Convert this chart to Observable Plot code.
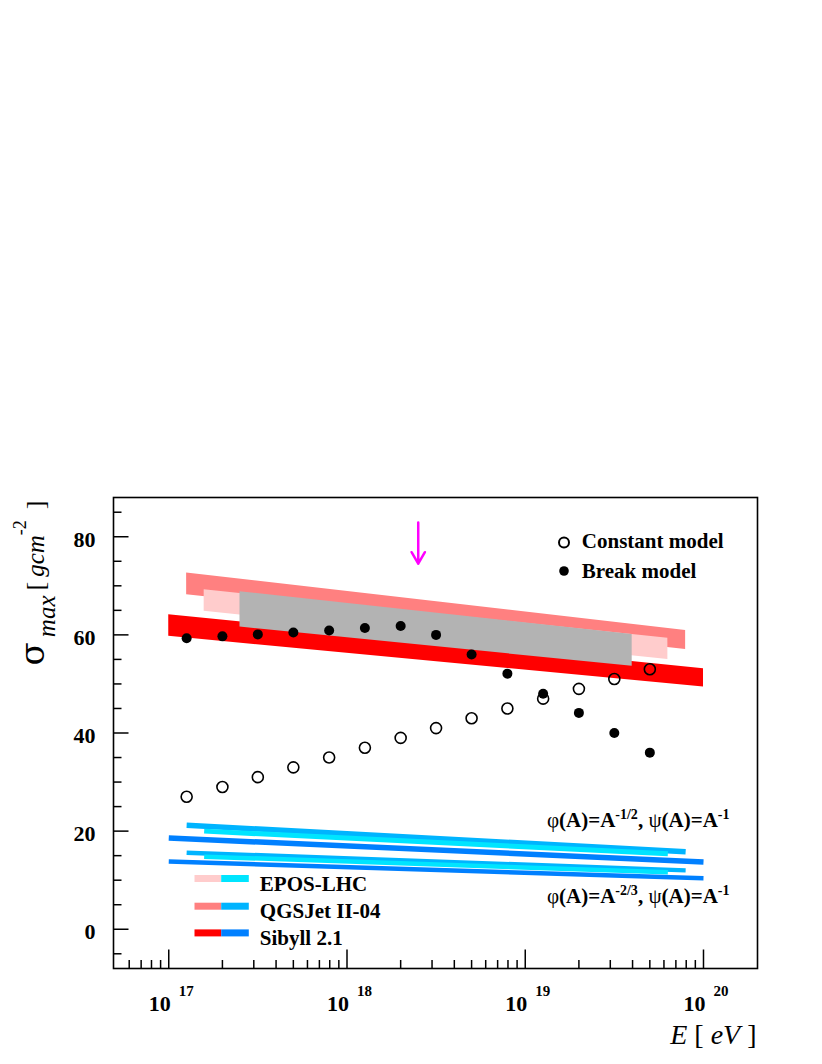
<!DOCTYPE html>
<html><head><meta charset="utf-8">
<script src="https://cdn.jsdelivr.net/npm/d3@7"></script>
<script src="https://cdn.jsdelivr.net/npm/@observablehq/plot@0.6"></script>
<style>body{margin:0;background:#fff}</style>
</head><body><div id="chart"></div>
<script>
// ---------- data ----------
const pointE = [1.26e17, 2.0e17, 3.16e17, 5.0e17, 7.94e17, 1.26e18, 2.0e18, 3.16e18, 5.0e18, 7.94e18, 1.26e19, 2.0e19, 3.16e19, 5.0e19];
const constantSigma = [27, 29, 31, 33, 35, 37, 39, 41, 43, 45, 47, 49, 51, 53];
const breakSigma = [59.3, 59.7, 60.1, 60.5, 60.9, 61.4, 61.8, 60.0, 56.0, 52.1, 48.0, 44.1, 40.0, 36.0];

const sibyllBandE = [1.0e17, 1.0e20];
const sibyllBandLow = [59.7, 49.4];
const sibyllBandHigh = [64.1, 53.1];
const qgsjetBandE = [1.26e17, 7.94e19];
const qgsjetBandLow = [68.2, 57.0];
const qgsjetBandHigh = [72.6, 60.9];
const eposBandE = [1.58e17, 6.31e19];
const eposBandLow = [64.8, 55.0];
const eposBandHigh = [69.2, 59.3];
const grayBandE = [2.51e17, 3.98e19];
const grayBandLow = [61.6, 53.6];
const grayBandHigh = [68.8, 60.1];

const sibyllLineE = [1.0e17, 1.0e20];
const sibyllUpper = [18.6, 13.7];
const sibyllLower = [13.8, 10.4];
const qgsjetLineE = [1.26e17, 7.94e19];
const qgsjetUpper = [21.2, 15.8];
const qgsjetLower = [15.6, 12.0];
const eposLineE = [1.58e17, 6.31e19];
const eposUpper = [20.0, 15.4];
const eposLower = [14.8, 11.6];

const arrowE = [2.51e18];
const arrowFrom = [82.9];
const arrowTo = [74.5];

const xMajor = [1e17, 1e18, 1e19, 1e20];
const xMajorExp = ["17", "18", "19", "20"];
const xMinor = [6e16, 7e16, 8e16, 9e16,
  2e17, 3e17, 4e17, 5e17, 6e17, 7e17, 8e17, 9e17,
  2e18, 3e18, 4e18, 5e18, 6e18, 7e18, 8e18, 9e18,
  2e19, 3e19, 4e19, 5e19, 6e19, 7e19, 8e19, 9e19];
const yMajor = [0, 20, 40, 60, 80];
const yMinor = [-5, 5, 10, 15, 25, 30, 35, 45, 50, 55, 65, 70, 75, 85];

const legendNames = ["EPOS-LHC", "QGSJet II-04", "Sibyll 2.1"];
const legendReds = ["#ffcccc", "#ff8080", "#ff0000"];
const legendBlues = ["#00e5ff", "#00b4ff", "#0080ff"];
const pointLegend = ["Constant model", "Break model"];

// ---------- helpers ----------
const band = (E, lo, hi) => E.map((e, i) => ({E: e, lo: lo[i], hi: hi[i]}));
const pts = (E, s) => E.map((e, i) => ({E: e, s: s[i]}));
const tickShape = {draw(ctx, l) { ctx.moveTo(0, 0); ctx.lineTo(0, -l); }};
const rich = new Map();
function key(k, segs) { rich.set(k, segs); return k; }
function applyRich(svg) {
  d3.select(svg).selectAll("text").each(function () {
    const segs = rich.get(this.textContent);
    if (!segs) return;
    const el = d3.select(this);
    el.text(null);
    let cur = 0;
    for (const s of segs) {
      const ts = el.append("tspan").text(s.t);
      const r = s.raise || 0;
      if (r !== cur) ts.attr("dy", cur - r);
      cur = r;
      if (s.dx) ts.attr("dx", s.dx);
      if (s.size) ts.attr("font-size", s.size);
      if (s.italic) ts.attr("font-style", "italic");
      if (s.weight) ts.attr("font-weight", s.weight);
      if (s.family) ts.attr("font-family", s.family);
    }
  });
}

xMajor.forEach((v, i) => key("10^" + xMajorExp[i], [{t: "10", size: 22}, {t: xMajorExp[i], size: 15, dx: 8, raise: 15}]));
key("YLABEL", [
  {t: "σ", size: 34, family: "'DejaVu Serif', serif", weight: "normal"},
  {t: "max", size: 25, italic: true, raise: -11, dx: 5},
  {t: "[", size: 26, raise: 0, dx: 5},
  {t: "gcm", size: 25, italic: true, dx: 5},
  {t: "-2", size: 18, raise: 18},
  {t: "]", size: 26, raise: 0, dx: 11}
]);
key("XLABEL", [{t: "E", italic: true}, {t: " [ "}, {t: "eV", italic: true}, {t: " ]"}]);
key("PHI12", [{t: "φ", weight: "normal"}, {t: "(A)=A"}, {t: "-1/2", size: 14, raise: 8}, {t: ", ", raise: 0},
  {t: "ψ", weight: "normal"}, {t: "(A)=A"}, {t: "-1", size: 14, raise: 8}]);
key("PHI23", [{t: "φ", weight: "normal"}, {t: "(A)=A"}, {t: "-2/3", size: 14, raise: 8}, {t: ", ", raise: 0},
  {t: "ψ", weight: "normal"}, {t: "(A)=A"}, {t: "-1", size: 14, raise: 8}]);

const bold = {fontWeight: "bold"};
const tick = {shape: tickShape, anchor: "start", stroke: "black", strokeWidth: 1.5, strokeLinecap: "butt"};
const marks = [
  Plot.area(band(qgsjetBandE, qgsjetBandLow, qgsjetBandHigh), {x1: "E", y1: "lo", y2: "hi", fill: legendReds[1]}),
  Plot.area(band(eposBandE, eposBandLow, eposBandHigh), {x1: "E", y1: "lo", y2: "hi", fill: legendReds[0]}),
  Plot.area(band(sibyllBandE, sibyllBandLow, sibyllBandHigh), {x1: "E", y1: "lo", y2: "hi", fill: legendReds[2]}),
  Plot.area(band(grayBandE, grayBandLow, grayBandHigh), {x1: "E", y1: "lo", y2: "hi", fill: "#b3b3b3"}),

  Plot.line(pts(qgsjetLineE, qgsjetUpper), {x: "E", y: "s", stroke: legendBlues[1], strokeWidth: 5.5, strokeLinecap: "butt"}),
  Plot.line(pts(qgsjetLineE, qgsjetLower), {x: "E", y: "s", stroke: legendBlues[1], strokeWidth: 4.5, strokeLinecap: "butt"}),
  Plot.line(pts(eposLineE, eposUpper), {x: "E", y: "s", stroke: legendBlues[0], strokeWidth: 5, strokeLinecap: "butt"}),
  Plot.line(pts(eposLineE, eposLower), {x: "E", y: "s", stroke: legendBlues[0], strokeWidth: 4.5, strokeLinecap: "butt"}),
  Plot.line(pts(sibyllLineE, sibyllUpper), {x: "E", y: "s", stroke: legendBlues[2], strokeWidth: 5.5, strokeLinecap: "butt"}),
  Plot.line(pts(sibyllLineE, sibyllLower), {x: "E", y: "s", stroke: legendBlues[2], strokeWidth: 4.5, strokeLinecap: "butt"}),

  Plot.dot(pts(pointE, breakSigma), {x: "E", y: "s", r: 5, fill: "black"}),
  Plot.dot(pts(pointE, constantSigma), {x: "E", y: "s", r: 5.5, fill: "none", stroke: "black", strokeWidth: 1.6}),

  Plot.arrow(arrowE.map((e, i) => ({e, a: arrowFrom[i], b: arrowTo[i]})), {x1: "e", x2: "e", y1: "a", y2: "b", stroke: "#ff00ff", strokeWidth: 2.5}),

  // axes ticks (inside)
  Plot.vector(xMajor, {x: d => d, frameAnchor: "bottom", length: 19, rotate: 0, ...tick}),
  Plot.vector(xMinor, {x: d => d, frameAnchor: "bottom", length: 8.5, rotate: 0, ...tick}),
  Plot.vector(yMajor, {y: d => d, frameAnchor: "left", length: 15, rotate: 90, ...tick}),
  Plot.vector(yMinor, {y: d => d, frameAnchor: "left", length: 8, rotate: 90, ...tick}),
  Plot.frame({stroke: "black", strokeWidth: 1.6}),

  // tick labels
  Plot.text(yMajor, {y: d => d, frameAnchor: "left", textAnchor: "end", dx: -18, dy: 3, fontSize: 22, ...bold, text: d => String(d)}),
  Plot.text(xMajor, {x: d => d, frameAnchor: "bottom", textAnchor: "start", lineAnchor: "bottom", dx: -20, dy: 42, ...bold, fontSize: 22,
    text: (d, i) => "10^" + xMajorExp[i]}),

  // axis titles
  Plot.text([0], {frameAnchor: "top-left", rotate: -90, textAnchor: "end", lineAnchor: "bottom", dx: -70, dy: 3, fontSize: 25, text: () => "YLABEL"}),
  Plot.text([0], {frameAnchor: "bottom-right", textAnchor: "end", lineAnchor: "bottom", dx: -1, dy: 75, fontSize: 28, text: () => "XLABEL"}),

  // formula annotations
  Plot.text([0], {frameAnchor: "top-right", textAnchor: "end", lineAnchor: "bottom", dx: -28, dy: 329, fontSize: 21, ...bold, text: () => "PHI12"}),
  Plot.text([0], {frameAnchor: "top-right", textAnchor: "end", lineAnchor: "bottom", dx: -28, dy: 405, fontSize: 21, ...bold, text: () => "PHI23"}),

  // point legend (top right)
  Plot.dot([0], {frameAnchor: "top-right", dx: -193.5, dy: 45, r: 5, fill: "none", stroke: "black", strokeWidth: 2}),
  Plot.dot([0], {frameAnchor: "top-right", dx: -193.5, dy: 73.5, r: 4.8, fill: "black"}),
  Plot.text([pointLegend[0]], {frameAnchor: "top-right", textAnchor: "start", lineAnchor: "bottom", dx: -175.7, dy: 50.5, fontSize: 21, ...bold, text: d => d}),
  Plot.text([pointLegend[1]], {frameAnchor: "top-right", textAnchor: "start", lineAnchor: "bottom", dx: -175.7, dy: 80.5, fontSize: 21, ...bold, text: d => d})
];

// model legend (bottom left)
const rowDy = [-90, -62.3, -35.6];
legendNames.forEach((name, i) => {
  marks.push(Plot.vector([0], {frameAnchor: "bottom-left", dx: 81, dy: rowDy[i], length: 26.7, rotate: 90, anchor: "start", shape: tickShape, stroke: legendReds[i], strokeWidth: 7, strokeLinecap: "butt"}));
  marks.push(Plot.vector([0], {frameAnchor: "bottom-left", dx: 107.7, dy: rowDy[i], length: 27.6, rotate: 90, anchor: "start", shape: tickShape, stroke: legendBlues[i], strokeWidth: 7, strokeLinecap: "butt"}));
  marks.push(Plot.text([name], {frameAnchor: "bottom-left", textAnchor: "start", lineAnchor: "bottom", dx: 146.3, dy: rowDy[i] + 12, fontSize: 21, ...bold, text: d => d}));
});

const svg = Plot.plot({
  width: 822,
  height: 1064,
  marginTop: 497,
  marginBottom: 96,
  marginLeft: 113,
  marginRight: 65,
  x: {type: "log", domain: [10 ** 16.69, 10 ** 20.303], axis: null},
  y: {domain: [-8, 88], axis: null},
  style: {fontFamily: "'Liberation Serif', 'Times New Roman', serif", background: "white", color: "black"},
  marks
});
applyRich(svg);
document.getElementById("chart").appendChild(svg);
</script></body></html>
